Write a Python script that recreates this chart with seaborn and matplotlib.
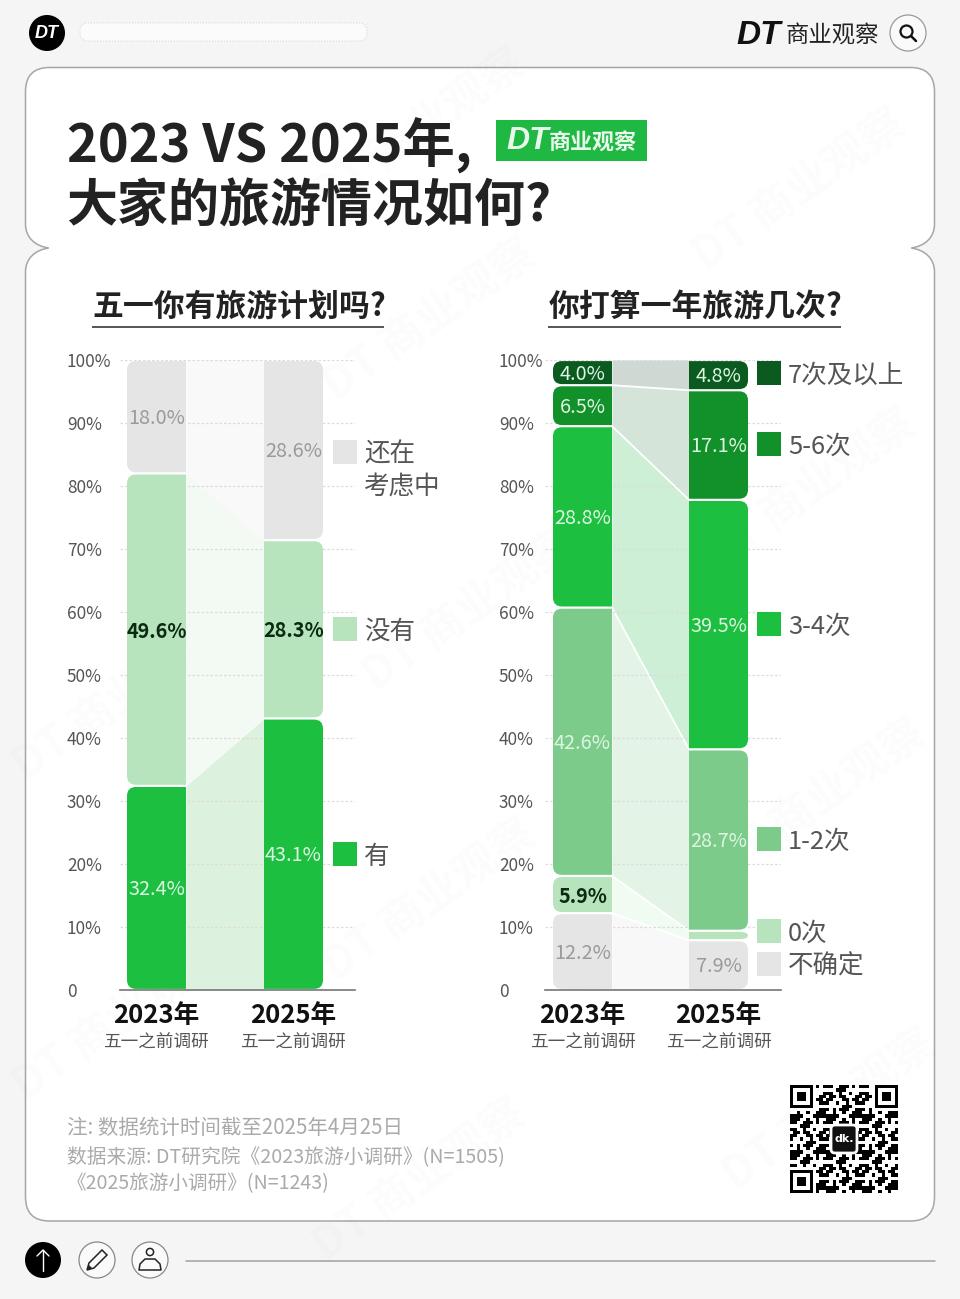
import numpy as np
import pandas as pd
import matplotlib
matplotlib.use("Agg")
import matplotlib.pyplot as plt
import seaborn as sns
from matplotlib.path import Path
from matplotlib.patches import PathPatch, Rectangle, Circle, FancyBboxPatch, Polygon

# ---------- data ----------
years = ["2023年", "2025年"]
plan_series = ["有", "没有", "还在考虑中"]
plan_2023 = [32.4, 49.6, 18.0]
plan_2025 = [43.1, 28.3, 28.6]
plan_text_2023 = ["32.4%", "49.6%", "18.0%"]
plan_text_2025 = ["43.1%", "28.3%", "28.6%"]

freq_series = ["不确定", "0次", "1-2次", "3-4次", "5-6次", "7次及以上"]
freq_2023 = [12.2, 5.9, 42.6, 28.8, 6.5, 4.0]
# heights as measured on the picture (the printed labels add up to less than 100)
freq_2025 = [7.9, 1.5, 28.8, 39.6, 17.4, 4.8]
freq_text_2023 = ["12.2%", "5.9%", "42.6%", "28.8%", "6.5%", "4.0%"]
freq_text_2025 = ["7.9%", "", "28.7%", "39.5%", "17.1%", "4.8%"]

yticks = [0, 10, 20, 30, 40, 50, 60, 70, 80, 90, 100]
ytick_labels = ["0", "10%", "20%", "30%", "40%", "50%", "60%", "70%", "80%", "90%", "100%"]

# ---------- style ----------
sns.set_theme(style="white")
plt.rcParams["font.family"] = ["Noto Sans CJK SC", "DejaVu Sans"]
plt.rcParams["axes.unicode_minus"] = False

BG = "#f5f5f5"
G_DARK, G_5, G_MAIN, G_12, G_LIGHT, GREY = "#0b5a1f", "#129029", "#1cbf3f", "#7ccb8b", "#b7e3bd", "#e5e5e5"
LIGHT_TXT, DARK_TXT, GREY_TXT = "#dcf6e2", "#0a2a12", "#9a9a9a"

plan_colors = [G_MAIN, G_LIGHT, GREY]
plan_flows = ["#dcf1de", "#f2faf3", "#f9f9f9"]
plan_txt = [LIGHT_TXT, DARK_TXT, GREY_TXT]

freq_colors = [GREY, G_LIGHT, G_12, G_MAIN, G_5, G_DARK]
freq_flows = ["#f8f8f8", "#f0fbf1", "#e3f3e6", "#cdefd5", "#d5e4d9", "#cfd8d2"]
freq_txt = [GREY_TXT, DARK_TXT, LIGHT_TXT, LIGHT_TXT, LIGHT_TXT, LIGHT_TXT]

W, H = 960, 1299
fig = plt.figure(figsize=(W / 100, H / 100), dpi=100, facecolor=BG)

# ---------- page chrome in pixel coordinates ----------
bg = fig.add_axes([0, 0, 1, 1], zorder=0)
bg.set_xlim(0, W)
bg.set_ylim(H, 0)
bg.axis("off")


def card_path(x0, x1, y0, y1, r, ny):
    M, L, C3, C4, Z = Path.MOVETO, Path.LINETO, Path.CURVE3, Path.CURVE4, Path.CLOSEPOLY
    tip = 23
    v = [(x0 + r, y0), (x1 - r, y0), (x1, y0), (x1, y0 + r), (x1, ny - 24),
         (x1, ny - 10), (x1 - 10, ny - 2), (x1 - tip, ny),
         (x1 - 10, ny + 2), (x1, ny + 10), (x1, ny + 24),
         (x1, y1 - r), (x1, y1), (x1 - r, y1), (x0 + r, y1), (x0, y1), (x0, y1 - r),
         (x0, ny + 24), (x0, ny + 10), (x0 + 10, ny + 2), (x0 + tip, ny),
         (x0 + 10, ny - 2), (x0, ny - 10), (x0, ny - 24),
         (x0, y0 + r), (x0, y0), (x0 + r, y0), (x0 + r, y0)]
    c = [M, L, C3, C3, L, C4, C4, C4, C4, C4, C4, L, C3, C3, L, C3, C3, L,
         C4, C4, C4, C4, C4, C4, L, C3, C3, Z]
    return Path(v, c)


bg.add_patch(PathPatch(card_path(25.5, 934.5, 67.5, 1221, 24, 248),
                       fc="white", ec="#a6a6a6", lw=1.1, zorder=1))

# faint watermarks
marks = [(420, 130), (800, 190), (430, 320), (810, 490), (470, 610), (120, 700),
         (820, 800), (430, 900), (120, 1020), (830, 1110), (420, 1180)]
for mx, my in marks:
    bg.text(mx, my, "DT 商业观察", fontsize=32, fontweight="bold", color="#000000", alpha=0.016,
            rotation=35, ha="center", va="center", zorder=2)

LOGO = "Liberation Sans"
bg.add_patch(Circle((47, 33), 18, fc="black", ec="none", zorder=3))
bg.text(47, 33, "DT", family=LOGO, style="italic", weight="bold", fontsize=13, color="white",
        ha="center", va="center", zorder=4)
bg.add_patch(FancyBboxPatch((80, 23), 287, 18, boxstyle="round,pad=0,rounding_size=8",
                            fc="#fbfbfb", ec="#d8d8d8", lw=0.8, ls=":", zorder=3))
bg.text(736, 35, "DT", family=LOGO, style="italic", weight="bold", fontsize=24, color="#111111",
        ha="left", va="center", zorder=4)
bg.text(786, 36, "商业观察", fontsize=16.8, color="#222222", ha="left", va="center", zorder=4)
bg.add_patch(Circle((908, 33), 18, fc="#fafafa", ec="#9a9a9a", lw=0.9, zorder=3))
bg.add_patch(Circle((906.5, 31.5), 6, fc="none", ec="#111111", lw=1.6, zorder=4))
bg.plot([911, 916], [36, 41], color="#111111", lw=1.8, zorder=4)

# title
bg.text(67, 146, "2023 VS 2025年,", fontsize=37.7, fontweight="bold", color="#222222",
        ha="left", va="center", zorder=4)
bg.text(66, 207, "大家的旅游情况如何?", fontsize=36.7, fontweight="bold", color="#222222",
        ha="left", va="center", zorder=4)
bg.add_patch(Rectangle((496, 120), 151, 41, fc="#1fb842", ec="none", zorder=3))
bg.text(506, 141, "DT", family=LOGO, style="italic", weight="bold", fontsize=23, color="#e9f8ec",
        ha="left", va="center", zorder=4)
bg.text(549, 143, "商业观察", fontsize=15.8, weight="bold", color="#e9f8ec",
        ha="left", va="center", zorder=4)

# panel headings
for tx, x0, x1, s in [(92, 92, 384, "五一你有旅游计划吗?"), (549, 548, 841, "你打算一年旅游几次?")]:
    bg.text(tx, 307, s, fontsize=22.2, fontweight="bold", color="#222222", ha="left", va="center", zorder=4)
    bg.plot([x0, x1], [327, 327], color="#555555", lw=1.4, zorder=4, solid_capstyle="butt")

# x sub-labels
for cx in [156, 293, 583, 719]:
    bg.text(cx, 1043, "五一之前调研", fontsize=12.7, color="#555555", ha="center", va="center", zorder=4)


# legends: swatches sit above the chart axes so the dotted grid does not cross them
def legend(x, cy, color, lines):
    fig.add_artist(Rectangle((x, cy - 12), 24, 24, fc=color, ec="none", transform=bg.transData, zorder=5))
    for i, s in enumerate(lines):
        bg.text(x + 31, cy + 3 + i * 32, s, fontsize=18.4, color="#555555", ha="left", va="center", zorder=4)


legend(333, 452, GREY, ["还在", "考虑中"])
legend(333, 629, G_LIGHT, ["没有"])
legend(333, 854, G_MAIN, ["有"])
legend(757, 373, G_DARK, ["7次及以上"])
legend(757, 444, G_5, ["5-6次"])
legend(757, 624, G_MAIN, ["3-4次"])
legend(757, 839, G_12, ["1-2次"])
legend(757, 931, G_LIGHT, ["0次"])
legend(757, 964, GREY, ["不确定"])

# footer notes
bg.text(67, 1128, "注: 数据统计时间截至2025年4月25日", fontsize=14.75, color="#aaaaaa", ha="left", va="center", zorder=4)
bg.text(67, 1158, "数据来源: DT研究院《2023旅游小调研》(N=1505)", fontsize=14.2, color="#aaaaaa", ha="left", va="center", zorder=4)
bg.text(67, 1184, "《2025旅游小调研》(N=1243)", fontsize=14.1, color="#aaaaaa", ha="left", va="center", zorder=4)

# QR-like block (decoration)
N = 33
qr = np.array([[((i * i * 7 + j * j * 13 + i * j * 5 + i * 3 + j) % 11) < 5 for j in range(N)] for i in range(N)], float)


def finder(a, r, c):
    a[max(r - 1, 0):r + 8, max(c - 1, 0):c + 8] = 0
    a[r:r + 7, c:c + 7] = 1
    a[r + 1:r + 6, c + 1:c + 6] = 0
    a[r + 2:r + 5, c + 2:c + 5] = 1


finder(qr, 0, 0)
finder(qr, 0, N - 7)
finder(qr, N - 7, 0)
bg.imshow(1 - qr, cmap="gray", vmin=0, vmax=1, extent=(790, 898, 1193, 1085), aspect="auto",
          interpolation="nearest", zorder=3)
bg.set_xlim(0, W)
bg.set_ylim(H, 0)
bg.add_patch(FancyBboxPatch((831, 1125), 26, 28, boxstyle="round,pad=0,rounding_size=4",
                            fc="#111111", ec="white", lw=2, zorder=4))
bg.text(844, 1139, "dk.", family="DejaVu Sans", fontsize=8, weight="bold", color="white",
        ha="center", va="center", zorder=5)

# bottom icons
bg.add_patch(Circle((43, 1260), 18, fc="black", ec="none", zorder=3))
bg.plot([43, 43], [1250, 1271], color="white", lw=1, zorder=4)
bg.plot([37, 43, 49], [1256, 1250, 1256], color="white", lw=1, zorder=4)
bg.add_patch(Circle((97, 1260), 18, fc="#fafafa", ec="#888888", lw=0.9, zorder=3))
bg.add_patch(Polygon([(87, 1270), (89, 1263), (102, 1250), (107, 1255), (94, 1268)],
                     fc="none", ec="#222222", lw=1.1, zorder=4))
bg.add_patch(Polygon([(87, 1270), (89, 1265), (92, 1268)], fc="#222222", ec="none", zorder=4))
bg.add_patch(Circle((150, 1260), 18, fc="#fafafa", ec="#888888", lw=0.9, zorder=3))
bg.add_patch(Circle((150, 1252), 3.6, fc="none", ec="#222222", lw=1.1, zorder=4))
bg.add_patch(Polygon([(139, 1270), (161, 1270), (160, 1264), (155, 1259), (145, 1259), (140, 1264)],
                     fc="none", ec="#222222", lw=1.1, joinstyle="round", zorder=4))
bg.plot([186, 935], [1261, 1261], color="#a0a0a0", lw=1.1, zorder=3)

PX_Y = 100 / 630  # data units of y per pixel
RADIUS_PX = 9
GAP_PX = 1.1


def round_bar(x0, x1, y0, y1, side, px_x):
    rx = RADIUS_PX * px_x
    ry = min(RADIUS_PX * PX_Y, (y1 - y0) / 2)
    M, L, C, Z = Path.MOVETO, Path.LINETO, Path.CURVE3, Path.CLOSEPOLY
    if side == "left":
        v = [(x1, y0), (x1, y1), (x0 + rx, y1), (x0, y1), (x0, y1 - ry),
             (x0, y0 + ry), (x0, y0), (x0 + rx, y0), (x1, y0)]
    else:
        v = [(x0, y0), (x0, y1), (x1 - rx, y1), (x1, y1), (x1, y1 - ry),
             (x1, y0 + ry), (x1, y0), (x1 - rx, y0), (x0, y0)]
    return Path(v, [M, L, L, C, C, L, C, C, Z])


def panel(left_px, right_px, c0_px, c1_px, tick_x_px, series, v23, v25, t23, t25, colors, flows, txt, sep):
    ax = fig.add_axes([left_px / W, (H - 990) / H, (right_px - left_px) / W, 630 / H], zorder=2)
    ax.patch.set_alpha(0)
    step = c1_px - c0_px
    px_x = 1 / step
    width = 59 * px_x
    b23 = np.concatenate([[0], np.cumsum(v23)])
    b25 = np.concatenate([[0], np.cumsum(v25)])
    df = pd.DataFrame({
        "year": [years[0]] * len(series) + [years[1]] * len(series),
        "series": list(series) * 2,
        "value": list(v23) + list(v25),
        "bottom": list(b23[:-1]) + list(b25[:-1]),
    })
    for i, s in enumerate(series):
        for _, row in df[df["series"] == s].iterrows():
            sns.barplot(data=row.to_frame().T.astype({"value": float}), x="year", y="value", order=years,
                        color=colors[i], saturation=1, width=width, bottom=row["bottom"],
                        errorbar=None, ax=ax, zorder=3)
    ax.set_xlim((left_px - c0_px) * px_x, (right_px - c0_px) * px_x)
    ax.set_ylim(0, 100)

    # rounded outer corners: rebuild every bar from its own geometry
    for bar in list(ax.patches):
        x0, w = bar.get_x(), bar.get_width()
        y0, h = bar.get_y(), bar.get_height()
        side = "left" if x0 + w / 2 < 0.5 else "right"
        g = GAP_PX * PX_Y
        ax.add_patch(PathPatch(round_bar(x0, x0 + w, y0 + g, y0 + h - g, side, px_x),
                               fc=bar.get_facecolor(), ec="none", zorder=3))
        bar.remove()

    # flows between the two bars
    xa, xb = width / 2, 1 - width / 2
    for i in range(len(series)):
        ax.fill_between([xa, xb], [b23[i], b25[i]], [b23[i + 1], b25[i + 1]], color=flows[i], lw=0, zorder=1)
        if sep and i:
            ax.plot([xa, xb], [b23[i], b25[i]], color="white", lw=1.3, zorder=1.2)

    # value labels
    for i in range(len(series)):
        for xc, b, v, t in [(0, b23, v23, t23), (1, b25, v25, t25)]:
            if t[i]:
                ax.text(xc, b[i] + v[i] / 2 - 1.5 * PX_Y, t[i], fontsize=14.3, color=txt[i], ha="center",
                        va="center", fontweight="bold" if txt[i] == DARK_TXT else "normal", zorder=4)

    # axes
    ax.set_xlabel("")
    ax.set_ylabel("")
    sns.despine(ax=ax, left=True, top=True, right=True)
    ax.spines["bottom"].set_color("#777777")
    ax.spines["bottom"].set_linewidth(1.2)
    ax.set_axisbelow("line")
    ax.yaxis.grid(True, color="#dcdcdc", lw=0.9, ls=(0, (2, 1.6)))
    ax.xaxis.grid(False)
    ax.set_yticks(yticks, ytick_labels)
    ax.set_xticks([0, 1], years)
    ax.tick_params(axis="y", length=0, pad=(left_px - tick_x_px) * 0.72, labelsize=12.4, labelcolor="#555555")
    ax.tick_params(axis="x", length=0, pad=8.5, labelsize=18.5, labelcolor="#111111")
    for lab in ax.get_yticklabels():
        lab.set_ha("left")
    for lab in ax.get_xticklabels():
        lab.set_fontweight("bold")
    return ax


panel(120, 355, 156.5, 293.5, 67, plan_series, plan_2023, plan_2025, plan_text_2023, plan_text_2025,
      plan_colors, plan_flows, plan_txt, False)
panel(545, 781, 582.5, 718.5, 499, freq_series, freq_2023, freq_2025, freq_text_2023, freq_text_2025,
      freq_colors, freq_flows, freq_txt, True)

fig.savefig("out.png", dpi=100, facecolor=BG)
